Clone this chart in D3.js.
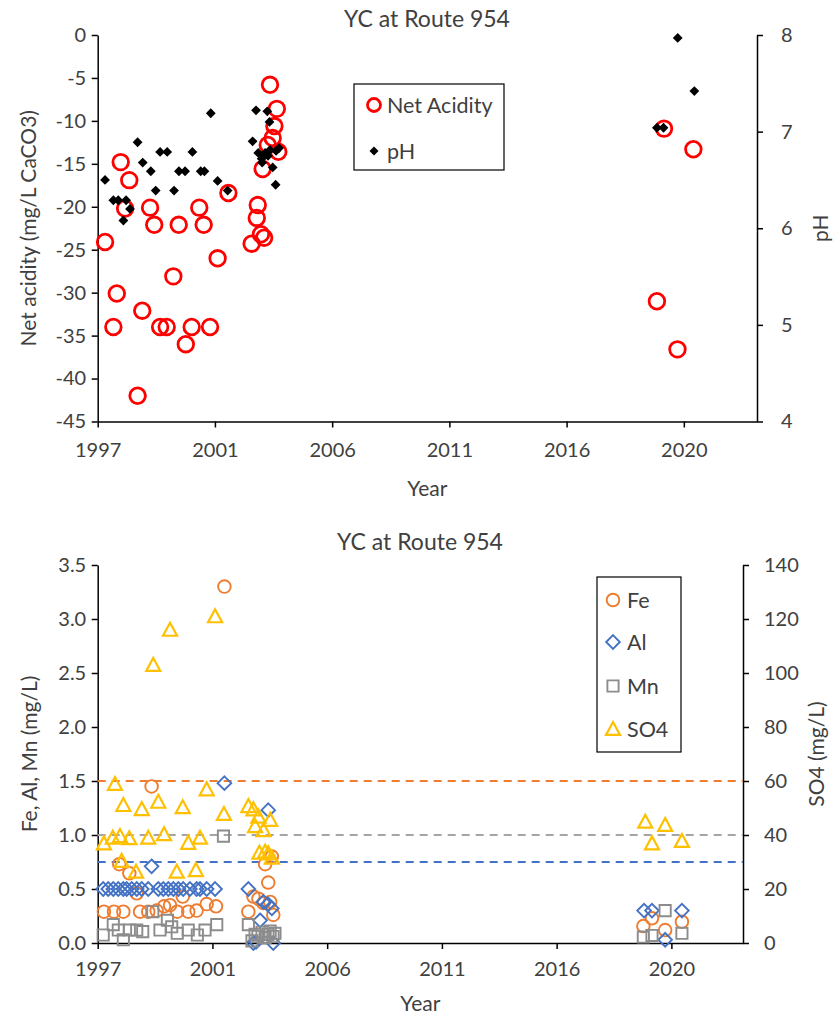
<!DOCTYPE html>
<html>
<head>
<meta charset="utf-8">
<script src="https://cdn.jsdelivr.net/npm/d3@7"></script>
<style>
  body { margin: 0; background: #fff; }
  text { font-family: Lato, "Open Sans", sans-serif; fill: #404040; }
</style>
</head>
<body>
<svg id="chart" width="839" height="1020"></svg>
<script>
// ---- shared time axis (decimal years) ----
const xDomain = [1997, 2023.94];
const xTickValues = [1997, 2001.79, 2006.58, 2011.37, 2016.16, 2020.95];
const xTickLabels = ["1997", "2001", "2006", "2011", "2016", "2020"];

// ---- upper panel: net acidity and pH ----
const naYears = [1997.30, 1997.64, 1997.78, 1997.94, 1998.12, 1998.29, 1998.63, 1998.82, 1999.14, 1999.31,
  1999.55, 1999.82, 2000.09, 2000.31, 2000.60, 2000.84, 2001.15, 2001.33, 2001.59, 2001.90, 2002.34,
  2003.29, 2003.50, 2003.54, 2003.67, 2003.74, 2003.80, 2003.95, 2004.04, 2004.15, 2004.22, 2004.32, 2004.38,
  2019.85, 2020.14, 2020.69, 2021.34];
const naValues = [-24.1, -34.0, -30.1, -14.8, -20.2, -16.9, -42.0, -32.1, -20.1, -22.1,
  -34.0, -34.0, -28.1, -22.1, -36.0, -34.0, -20.1, -22.1, -34.0, -26.0, -18.4,
  -24.3, -21.3, -19.8, -23.2, -15.6, -23.6, -12.8, -5.8, -12.0, -10.6, -8.6, -13.6,
  -31.0, -10.9, -36.6, -13.3];

const phYears = [1997.30, 1997.64, 1997.84, 1998.05, 1998.16, 1998.32, 1998.63, 1998.84, 1999.17, 1999.37,
  1999.55, 1999.84, 2000.12, 2000.32, 2000.57, 2000.87, 2001.21, 2001.36, 2001.62, 2001.90, 2002.31,
  2003.33, 2003.47, 2003.56, 2003.70, 2003.72, 2003.84, 2003.93, 2003.96, 2004.02, 2004.04, 2004.15, 2004.27, 2004.29, 2004.41,
  2019.85, 2020.12, 2020.70, 2021.38];
const phValues = [6.50, 6.29, 6.29, 6.08, 6.29, 6.20, 6.89, 6.68, 6.59, 6.39,
  6.79, 6.79, 6.39, 6.59, 6.59, 6.79, 6.59, 6.59, 7.19, 6.49, 6.39,
  6.90, 7.22, 6.78, 6.72, 6.68, 6.78, 7.21, 6.75, 7.10, 6.81, 6.63, 6.45, 6.80, 6.83,
  7.04, 7.04, 7.97, 7.42];

const naTicks = [-45, -40, -35, -30, -25, -20, -15, -10, -5, 0];
const phTicks = [4, 5, 6, 7, 8];

// ---- lower panel: metals and sulfate ----
const feYears = [1997.26, 1997.68, 1997.90, 1998.07, 1998.32, 1998.63, 1998.77, 1999.11, 1999.25, 1999.46,
  1999.77, 2000.02, 2000.32, 2000.55, 2000.78, 2001.13, 2001.55, 2001.94, 2002.29,
  2003.29, 2003.50, 2003.71, 2003.92, 2003.99, 2004.12, 2004.20, 2004.27, 2004.33,
  2019.78, 2020.14, 2020.69, 2021.39];
const feValues = [0.29, 0.29, 0.73, 0.29, 0.645, 0.46, 0.29, 0.29, 1.45, 0.30,
  0.34, 0.35, 0.29, 0.43, 0.29, 0.30, 0.36, 0.34, 3.30,
  0.29, 0.43, 0.41, 0.37, 0.73, 0.56, 0.38, 0.80, 0.26,
  0.157, 0.229, 0.12, 0.197];

const alYears = [1997.23, 1997.44, 1997.65, 1997.86, 1998.07, 1998.21, 1998.42, 1998.63, 1998.84, 1999.11,
  1999.25, 1999.53, 1999.74, 1999.95, 2000.16, 2000.37, 2000.57, 2000.85, 2001.13, 2001.27, 2001.55, 2001.90, 2002.29,
  2003.29, 2003.50, 2003.61, 2003.78, 2003.92, 2004.11, 2004.12, 2004.27, 2004.33,
  2019.81, 2020.14, 2020.69, 2021.39];
const alValues = [0.5, 0.5, 0.5, 0.5, 0.5, 0.5, 0.5, 0.5, 0.5, 0.5,
  0.71, 0.5, 0.5, 0.5, 0.5, 0.5, 0.5, 0.5, 0.5, 0.5, 0.5, 0.5, 1.48,
  0.50, 0.0, 0.01, 0.21, 0.38, 0.36, 1.23, 0.32, 0.0,
  0.30, 0.30, 0.03, 0.30];

const mnYears = [1997.23, 1997.65, 1997.86, 1998.07, 1998.32, 1998.63, 1998.88, 1999.30, 1999.60, 1999.91,
  2000.09, 2000.32, 2000.78, 2001.16, 2001.48, 2001.97, 2002.25,
  2003.29, 2003.44, 2003.57, 2003.69, 2003.86, 2003.99, 2004.11, 2004.20, 2004.32, 2004.40,
  2019.78, 2020.14, 2020.69, 2021.39];
const mnValues = [0.074, 0.17, 0.12, 0.03, 0.12, 0.12, 0.105, 0.29, 0.12, 0.21,
  0.15, 0.09, 0.12, 0.074, 0.12, 0.17, 0.99,
  0.17, 0.02, 0.08, 0.06, 0.10, 0.05, 0.08, 0.11, 0.06, 0.09,
  0.055, 0.07, 0.30, 0.09];

const so4Years = [1997.26, 1997.63, 1997.72, 1997.93, 1998.00, 1998.07, 1998.32, 1998.60, 1998.84, 1999.11,
  1999.32, 1999.53, 1999.77, 2000.02, 2000.30, 2000.55, 2000.78, 2001.10, 2001.27, 2001.55, 2001.90, 2002.27,
  2003.29, 2003.50, 2003.57, 2003.71, 2003.75, 2003.92, 2003.99, 2004.12, 2004.20, 2004.27,
  2019.86, 2020.14, 2020.69, 2021.39];
const so4Values = [36.9, 39.0, 58.9, 39.6, 30.4, 51.1, 38.8, 26.4, 49.6, 39.0,
  103, 52.3, 40.3, 116, 26.4, 50.3, 37.1, 27.0, 39.0, 56.9, 121, 47.8,
  50.7, 49.5, 43.3, 46.8, 33.4, 41.8, 33.8, 33.2, 45.6, 31.6,
  44.9, 36.9, 43.7, 37.8];

const metalTicks = [0, 0.5, 1.0, 1.5, 2.0, 2.5, 3.0, 3.5];
const so4Ticks = [0, 20, 40, 60, 80, 100, 120, 140];

// reference levels on the metals axis (Fe, Mn, Al)
const refLevels = [1.5, 1.0, 0.75];

// ---- styling ----
const COLORS = { na: "#FF0000", ph: "#000000", fe: "#ED7D31", al: "#4472C4", mn: "#8C8C8C", so4: "#FFC000",
  refFe: "#ED7D31", refMn: "#A5A5A5", refAl: "#4472C4" };
const TICK_FONT = 20, TITLE_FONT = 23, AXIS_TITLE_FONT = 21, LEGEND_FONT = 21.5;

const svg = d3.select("#chart");

// marker path builders
function circlePath(r) { return `M${r},0A${r},${r},0,1,1,${-r},0A${r},${r},0,1,1,${r},0Z`; }
const shapes = {
  circle: circlePath,
  diamond: h => `M0,${-h}L${h},0L0,${h}L${-h},0Z`,
  square: h => `M${-h},${-h}H${h}V${h}H${-h}Z`,
  triangle: h => `M0,${-h}L${h},${h * 0.85}L${-h},${h * 0.85}Z`
};

function drawMarkers(g, xs, ys, x, y, kind, size, style) {
  const pts = xs.map((d, i) => [x(d), y(ys[i])]);
  g.selectAll(null).data(pts).join("path")
    .attr("d", shapes[kind](size))
    .attr("transform", d => `translate(${d[0]},${d[1]})`)
    .attr("fill", style.fill || "none")
    .attr("stroke", style.stroke || "none")
    .attr("stroke-width", style.width || 0);
}

function styleAxis(g, size) {
  g.select(".domain").attr("stroke", "#000").attr("stroke-width", 1.5);
  g.selectAll(".tick line").attr("stroke", "#000").attr("stroke-width", 1.5);
  g.selectAll(".tick text").attr("font-size", size).attr("fill", "#404040")
    .attr("font-family", "Lato, 'Open Sans', sans-serif");
}

function panel(cfg) {
  const x = d3.scaleLinear().domain(xDomain).range([cfg.left, cfg.right]);
  const yL = d3.scaleLinear().domain(cfg.yLdomain).range([cfg.bottom, cfg.top]);
  const yR = d3.scaleLinear().domain(cfg.yRdomain).range([cfg.bottom, cfg.top]);

  svg.append("text").attr("x", cfg.titleX).attr("y", cfg.titleY)
    .attr("text-anchor", "middle").attr("font-size", TITLE_FONT).text(cfg.title);

  const gx = svg.append("g").attr("transform", `translate(0,${cfg.bottom})`)
    .call(d3.axisBottom(x).tickValues(xTickValues).tickFormat((d, i) => xTickLabels[i])
      .tickSizeInner(6).tickSizeOuter(0).tickPadding(cfg.xPad));
  styleAxis(gx, TICK_FONT);

  const gl = svg.append("g").attr("transform", `translate(${cfg.left},0)`)
    .call(d3.axisLeft(yL).tickValues(cfg.yLticks).tickFormat(cfg.yLformat)
      .tickSizeInner(6).tickSizeOuter(0).tickPadding(5.5));
  styleAxis(gl, TICK_FONT);

  const gr = svg.append("g").attr("transform", `translate(${cfg.right},0)`)
    .call(d3.axisRight(yR).tickValues(cfg.yRticks).tickFormat(d => String(d))
      .tickSizeInner(6).tickSizeOuter(0).tickPadding(cfg.rPad));
  styleAxis(gr, TICK_FONT);

  svg.append("text").attr("x", (cfg.left + cfg.right) / 2).attr("y", cfg.bottom + cfg.yearOffset)
    .attr("text-anchor", "middle").attr("font-size", AXIS_TITLE_FONT).text("Year");
  svg.append("text")
    .attr("transform", `translate(${cfg.leftTitleX},${(cfg.top + cfg.bottom) / 2}) rotate(-90)`)
    .attr("text-anchor", "middle").attr("font-size", AXIS_TITLE_FONT).text(cfg.leftTitle);
  svg.append("text")
    .attr("transform", `translate(${cfg.rightTitleX},${(cfg.top + cfg.bottom) / 2}) rotate(-90)`)
    .attr("text-anchor", "middle").attr("font-size", AXIS_TITLE_FONT).text(cfg.rightTitle);

  return { x, yL, yR };
}

// ---------- upper panel ----------
const upper = panel({
  left: 97.7, right: 757, top: 35, bottom: 421.5,
  yLdomain: [-45, 0], yRdomain: [4, 8],
  yLticks: naTicks, yRticks: phTicks, yLformat: d => String(d),
  xPad: 15, rPad: 18, yearOffset: 74,
  title: "YC at Route 954", titleX: 427, titleY: 27,
  leftTitle: "Net acidity (mg/L CaCO3)", leftTitleX: 36,
  rightTitle: "pH", rightTitleX: 828
});
const gUpper = svg.append("g");
drawMarkers(gUpper, naYears, naValues, upper.x, upper.yL, "circle", 7.8, { stroke: COLORS.na, width: 2.8 });
drawMarkers(gUpper, phYears, phValues, upper.x, upper.yR, "diamond", 4.9, { fill: COLORS.ph });

// legend (upper)
const lg1 = svg.append("g");
lg1.append("rect").attr("x", 354).attr("y", 84).attr("width", 150).attr("height", 86)
  .attr("fill", "#fff").attr("stroke", "#000").attr("stroke-width", 1.2);
lg1.append("path").attr("d", circlePath(6.5)).attr("transform", "translate(374,105)")
  .attr("fill", "none").attr("stroke", COLORS.na).attr("stroke-width", 2.8);
lg1.append("text").attr("x", 387).attr("y", 105).attr("dy", "0.35em").attr("font-size", LEGEND_FONT).text("Net Acidity");
lg1.append("path").attr("d", shapes.diamond(4.5)).attr("transform", "translate(374,151)").attr("fill", COLORS.ph);
lg1.append("text").attr("x", 387).attr("y", 151).attr("dy", "0.35em").attr("font-size", LEGEND_FONT).text("pH");

// ---------- lower panel ----------
const lower = panel({
  left: 97.7, right: 743, top: 565, bottom: 943,
  yLdomain: [0, 3.5], yRdomain: [0, 140],
  yLticks: metalTicks, yRticks: so4Ticks, yLformat: d3.format(".1f"),
  xPad: 13, rPad: 15, yearOffset: 68,
  title: "YC at Route 954", titleX: 420, titleY: 550,
  leftTitle: "Fe, Al, Mn (mg/L)", leftTitleX: 37,
  rightTitle: "SO4 (mg/L)", rightTitleX: 824
});

// reference lines
const refColors = [COLORS.refFe, COLORS.refMn, COLORS.refAl];
svg.append("g").selectAll("line").data(refLevels).join("line")
  .attr("x1", lower.x.range()[0]).attr("x2", lower.x.range()[1])
  .attr("y1", d => lower.yL(d)).attr("y2", d => lower.yL(d))
  .attr("stroke", (d, i) => refColors[i]).attr("stroke-width", 2)
  .attr("stroke-dasharray", "8,6");

const gLower = svg.append("g");
drawMarkers(gLower, feYears, feValues, lower.x, lower.yL, "circle", 6.3, { stroke: COLORS.fe, width: 1.9 });
drawMarkers(gLower, alYears, alValues, lower.x, lower.yL, "diamond", 6.8, { stroke: COLORS.al, width: 1.9 });
drawMarkers(gLower, mnYears, mnValues, lower.x, lower.yL, "square", 5.6, { stroke: COLORS.mn, width: 1.9 });
drawMarkers(gLower, so4Years, so4Values, lower.x, lower.yR, "triangle", 7, { stroke: COLORS.so4, width: 2.2 });

// legend (lower)
const lg2 = svg.append("g");
lg2.append("rect").attr("x", 597).attr("y", 577).attr("width", 84).attr("height", 175)
  .attr("fill", "#fff").attr("stroke", "#000").attr("stroke-width", 1.2);
const legendItems = [
  { label: "Fe", kind: "circle", size: 6.3, color: COLORS.fe, y: 600 },
  { label: "Al", kind: "diamond", size: 6.8, color: COLORS.al, y: 642 },
  { label: "Mn", kind: "square", size: 5.6, color: COLORS.mn, y: 686 },
  { label: "SO4", kind: "triangle", size: 7, color: COLORS.so4, y: 729 }
];
legendItems.forEach(it => {
  lg2.append("path")
    .attr("d", shapes[it.kind](it.size))
    .attr("transform", `translate(613,${it.y})`)
    .attr("fill", "none").attr("stroke", it.color).attr("stroke-width", it.kind === "triangle" ? 2.2 : 1.9);
  lg2.append("text").attr("x", 627).attr("y", it.y).attr("dy", "0.35em")
    .attr("font-size", LEGEND_FONT).text(it.label);
});
</script>
</body>
</html>
